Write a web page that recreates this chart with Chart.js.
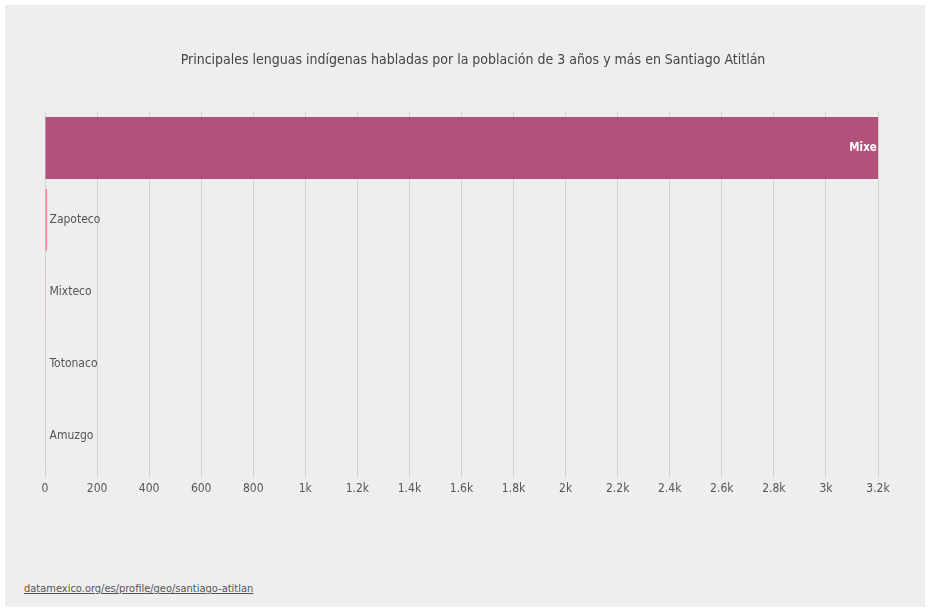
<!DOCTYPE html>
<html>
<head>
<meta charset="utf-8">
<script src="https://cdn.jsdelivr.net/npm/chart.js@4"></script>
<style>
  html, body { margin: 0; padding: 0; background: #ffffff; }
  #frame { position: absolute; left: 5px; top: 5px; width: 920px; height: 602px; background: #eeeeee; }
  #wrap { position: absolute; left: 0; top: 0; width: 920px; height: 500px; }
  #title { position: absolute; left: 0; width: 936px; top: 46px; text-align: center; font-family: "DejaVu Sans Condensed", sans-serif; font-size: 14px; color: #444444; white-space: nowrap; }
  #src { position: absolute; left: 19px; top: 577px; font-family: "DejaVu Sans Condensed", sans-serif; font-size: 11px; color: #555555; text-decoration: underline; }
</style>
</head>
<body>
<div id="frame">
  <div id="wrap"><canvas id="c" width="920" height="500"></canvas></div>
  <div id="title"></div>
  <div id="src">datamexico.org/es/profile/geo/santiago-atitlan</div>
</div>
<script>
const categories = ["Mixe", "Zapoteco", "Mixteco", "Totonaco", "Amuzgo"];
const values = [3207, 8, 3, 2, 2];
const barColors = ["#b05279", "#f08a8f", "#f0a0a8", "#b07090", "#e89098"];
const tickValues = [0, 200, 400, 600, 800, 1000, 1200, 1400, 1600, 1800, 2000, 2200, 2400, 2600, 2800, 3000, 3200];
const titleText = "Principales lenguas indígenas habladas por la población de 3 años y más en Santiago Atitlán";

document.getElementById("title").textContent = titleText;

const FONT = "'DejaVu Sans Condensed', sans-serif";

function fmt(v) {
  if (v === 0) return "0";
  if (v >= 1000) return (v / 1000).toString() + "k";
  return v.toString();
}

const labelPlugin = {
  id: "barLabels",
  afterDatasetsDraw(chart) {
    const ctx = chart.ctx;
    const meta = chart.getDatasetMeta(0);
    ctx.save();
    ctx.textBaseline = "middle";
    meta.data.forEach((bar, i) => {
      const name = categories[i];
      const left = bar.base;
      const right = bar.x;
      ctx.font = "bold 11.5px " + FONT;
      const w = ctx.measureText(name).width;
      if (right - left > w + 12) {
        ctx.fillStyle = "#ffffff";
        ctx.textAlign = "right";
        ctx.fillText(name, right - 3, bar.y);
      } else {
        ctx.font = "12px " + FONT;
        ctx.fillStyle = "#555555";
        ctx.textAlign = "left";
        ctx.fillText(name, left + 4, bar.y);
      }
    });
    ctx.restore();
  }
};

new Chart(document.getElementById("c"), {
  type: "bar",
  data: {
    labels: categories,
    datasets: [{
      data: values,
      backgroundColor: barColors,
      borderWidth: 0,
      categoryPercentage: 1.0,
      barPercentage: 0.86
    }]
  },
  options: {
    indexAxis: "y",
    responsive: false,
    animation: false,
    devicePixelRatio: 1,
    layout: { padding: { left: 40, right: 47, top: 107, bottom: 5 } },
    plugins: {
      legend: { display: false },
      tooltip: { enabled: false },
      title: { display: false }
    },
    scales: {
      x: {
        type: "linear",
        min: 0,
        max: 3200,
        afterBuildTicks(axis) { axis.ticks = tickValues.map(v => ({ value: v })); },
        grid: { color: "#d0d0d0", lineWidth: 1, drawTicks: true, tickLength: 6 },
        border: { display: false },
        ticks: {
          color: "#555555",
          font: { family: FONT, size: 12 },
          padding: 4,
          maxRotation: 0,
          autoSkip: false,
          callback: (v) => fmt(v)
        }
      },
      y: {
        display: false,
        grid: { display: false }
      }
    }
  },
  plugins: [labelPlugin]
});
</script>
</body>
</html>
